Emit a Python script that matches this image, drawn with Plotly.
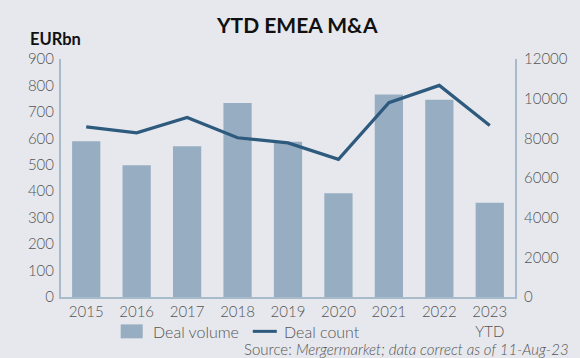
import plotly.graph_objects as go

years = ["2015", "2016", "2017", "2018", "2019", "2020", "2021", "2022", "2023<br>YTD"]
deal_volume = [589, 498, 570, 734, 587, 392, 766, 746, 356]
deal_count = [8580, 8280, 9050, 8030, 7770, 6940, 9800, 10670, 8650]
left_ticks = [0, 100, 200, 300, 400, 500, 600, 700, 800, 900]
right_ticks = [0, 2000, 4000, 6000, 8000, 10000, 12000]

BG = "#E6E8ED"
BAR = "#97AEC2"
LINE = "#2E5A7E"
AXIS = "#A8BBCB"
TXT = "#555555"
FONT = "Lato"

fig = go.Figure()
fig.add_trace(go.Bar(x=years, y=deal_volume, name="Deal volume", marker_color=BAR,
                     marker_line_width=0, width=0.56, showlegend=False))
fig.add_trace(go.Scatter(x=years, y=deal_count, name="Deal count", mode="lines",
                         line=dict(color=LINE, width=3.2), yaxis="y2", showlegend=False))

# plot area: x 61..515 px, y 58.5..297.5 px
L, R, T, B = 61, 515, 58.5, 297.5
PW, PH = R - L, B - T
def px(x):
    return (x - L) / PW
def py(y):
    return (B - y) / PH

shapes = [
    dict(type="rect", xref="paper", yref="paper", x0=px(120.7), x1=px(142.7),
         y0=py(339), y1=py(325), fillcolor=BAR, line=dict(width=0)),
    dict(type="line", xref="paper", yref="paper", x0=px(252.8), x1=px(276.8),
         y0=py(332), y1=py(332), line=dict(color=LINE, width=3)),
]

fig.update_layout(
    width=580, height=358,
    paper_bgcolor=BG, plot_bgcolor=BG,
    margin=dict(l=L, r=580 - R, t=T, b=358 - B, pad=0),
    font=dict(family=FONT, color=TXT, size=15, weight=300),
    showlegend=False,
    bargap=0.44,
    xaxis=dict(showgrid=False, showline=True, linecolor=AXIS, linewidth=2,
               ticks="", tickfont=dict(size=15, color=TXT), zeroline=False,
               ticklabelstandoff=0),
    yaxis=dict(range=[0, 900], tickvals=left_ticks, showgrid=False, showline=True,
               linecolor=AXIS, linewidth=2, ticks="", zeroline=False,
               tickfont=dict(size=15, color=TXT), ticklabelstandoff=2),
    yaxis2=dict(range=[0, 12000], tickvals=right_ticks, ticktext=[str(v) for v in right_ticks],
                overlaying="y", side="right",
                showgrid=False, showline=True, linecolor=AXIS, linewidth=2, ticks="",
                zeroline=False, tickfont=dict(size=15, color=TXT), ticklabelstandoff=4),
    shapes=shapes,
    annotations=[
        dict(text="<b>YTD EMEA M&amp;A</b>", xref="paper", yref="paper", x=px(296.7), y=py(24),
             xanchor="center", yanchor="middle", showarrow=False,
             font=dict(size=21, color="#111111", family=FONT, weight=700)),
        dict(text="<b>EURbn</b>", xref="paper", yref="paper", x=px(28), y=py(38),
             xanchor="left", yanchor="middle", showarrow=False,
             font=dict(size=16.5, color="#111111", family=FONT, weight=700)),
        dict(text="Deal volume", xref="paper", yref="paper", x=px(150.5), y=py(332),
             xanchor="left", yanchor="middle", showarrow=False,
             font=dict(size=16, color=TXT, family=FONT, weight=300)),
        dict(text="Deal count", xref="paper", yref="paper", x=px(282.2), y=py(332),
             xanchor="left", yanchor="middle", showarrow=False,
             font=dict(size=16, color=TXT, family=FONT, weight=300)),
        dict(text="Source: <i>Mergermarket; data correct as of 11-Aug-23</i>",
             xref="paper", yref="paper", x=px(571), y=py(349.5), xanchor="right", yanchor="middle",
             showarrow=False, font=dict(size=15, color=TXT, family=FONT, weight=300)),
    ],
)

fig.write_html("out.html", post_script="document.body.style.margin='0px';",
               config={"displayModeBar": False})
